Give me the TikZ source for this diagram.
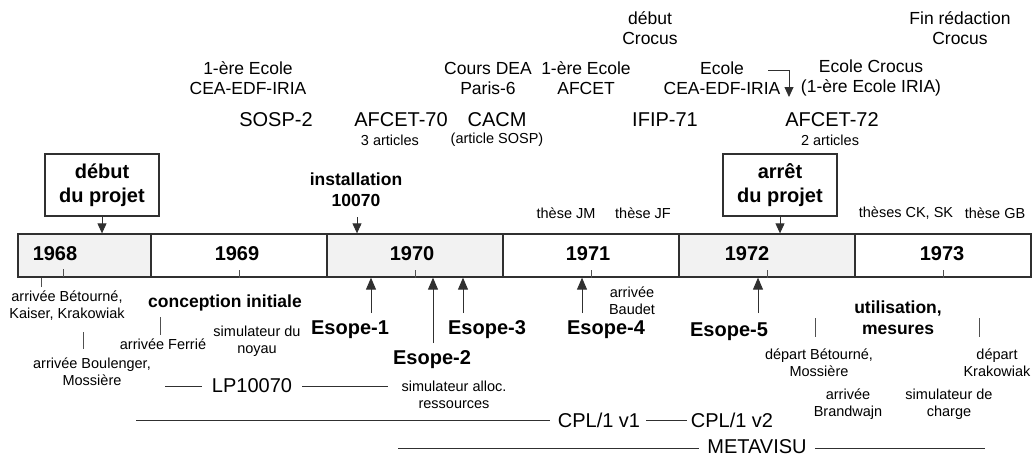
\documentclass[tikz,border=0pt]{standalone}
\usepackage{fontspec}
\setmainfont{Liberation Sans}
\usetikzlibrary{arrows.meta}
\definecolor{bar}{HTML}{303030}
\definecolor{txt}{HTML}{000000}
\definecolor{tk}{HTML}{505050}
\definecolor{shd}{HTML}{F2F2F2}
\begin{document}
\begin{tikzpicture}[x=1pt,y=-1pt,
  every node/.style={inner sep=0pt, align=center, text=txt},
  sm/.style={font=\fontsize{14.5}{17}\selectfont},
  md/.style={font=\fontsize{17.5}{20}\selectfont},
  lg/.style={font=\fontsize{20}{23}\selectfont},
  bmd/.style={font=\bfseries\fontsize{17.5}{21}\selectfont},
  blg/.style={font=\bfseries\fontsize{20}{24}\selectfont},
  seg/.style={draw=bar, line width=1.3pt, minimum height=43pt, inner sep=0pt},
  shade/.style={fill=shd},
  pbox/.style={draw=bar, line width=1.2pt, minimum width=114pt, minimum height=62pt, font=\bfseries\fontsize{20}{24}\selectfont},
  tick/.style={draw=tk, line width=0.8pt},
  arr/.style={-{Triangle[width=9pt,length=10pt]}, line width=0.9pt, draw=bar},
  uparr/.style={-{Triangle[width=10pt,length=12pt]}, line width=0.9pt, draw=bar},
  rule/.style={draw=bar, line width=0.9pt}
]
\useasboundingbox (0,0) rectangle (1032,459);

% timeline bar
\node[seg, shade, minimum width=133pt] (s68) at (84.5,255.5) {};
\node[seg, minimum width=176pt] (s69) at (239,255.5) {};
\node[seg, shade, minimum width=176pt] (s70) at (415,255.5) {};
\node[seg, minimum width=176pt] (s71) at (591,255.5) {};
\node[seg, shade, minimum width=176pt] (s72) at (767,255.5) {};
\node[seg, minimum width=176pt] (s73) at (943,255.5) {};

\node[blg] (t68) at (55,254) {1968};
\node[blg] (t69) at (237,254) {1969};
\node[blg] (t70) at (412,254) {1970};
\node[blg] (t71) at (588,254) {1971};
\node[blg] (t72) at (747,254) {1972};
\node[blg] (t73) at (942,254) {1973};

\draw[tick] (63,269) -- (63,277);
\draw[tick] (s69.south) -- ++(0,-8);
\draw[tick] (s70.south) -- ++(0,-8);
\draw[tick] (s71.south) -- ++(0,-8);
\draw[tick] (s72.south) -- ++(0,-8);
\draw[tick] (s73.south) -- ++(0,-8);

% top texts
\node[md] (debCro) at (650,28) {début\\Crocus};
\node[md] (finCro) at (960,28) {Fin rédaction\\Crocus};
\node[md] (ecole1) at (248,78) {1-ère Ecole\\CEA-EDF-IRIA};
\node[md] (dea) at (488,78) {Cours DEA\\Paris-6};
\node[md] (ecAf) at (586,78) {1-ère Ecole\\AFCET};
\node[md] (ecole2) at (722,78) {Ecole\\CEA-EDF-IRIA};
\node[md] (ecCro) at (871,78) {Ecole Crocus\\(1-ère Ecole IRIA)};
\coordinate (e2a) at (768,70);
\coordinate (e2b) at (789,70);
\coordinate (e2c) at (789,97);
\draw[arr] (e2a) -- (e2b) -- (e2c);

\node[lg] (sosp) at (276,120) {SOSP-2};
\node[lg] (af70) at (401,120) {AFCET-70};
\node[sm] (af70b) at (390,140) {3 articles};
\node[lg] (cacm) at (497,120) {CACM};
\node[sm] (cacmb) at (497,140) {(article SOSP)};
\node[lg] (ifip) at (665,120) {IFIP-71};
\node[lg] (af72) at (832,120) {AFCET-72};
\node[sm] (af72b) at (830,140) {2 articles};

% project boxes
\node[pbox] (debut) at (102,185) {début\\du projet};
\node[pbox] (arret) at (780,185) {arrêt\\du projet};
\draw[arr] (debut.south) -- (debut.south |- s68.north);
\draw[arr] (arret.south) -- (arret.south |- s72.north);

\node[bmd] (inst) at (356,189.5) {installation\\10070};
\coordinate (instA) at (357,217);
\draw[arr] (instA) -- (instA |- s70.north);

\node[sm] (thJM) at (566,213) {thèse JM};
\node[sm] (thJF) at (643,213) {thèse JF};
\node[sm] (thCK) at (906,213) {thèses CK, SK};
\node[sm] (thGB) at (995,213) {thèse GB};

% below the bar
\coordinate (bk1) at (41,287);
\draw[tick] (bk1) -- (bk1 |- s68.south);
\node[sm] (arrBet) at (67,305.5) {arrivée Bétourné,\\Kaiser, Krakowiak};
\coordinate (bk2a) at (83,332);
\coordinate (bk2b) at (83,349);
\draw[tick] (bk2a) -- (bk2b);
\node[sm] (arrBou) at (92,372) {arrivée Boulenger,\\Mossière};
\node[bmd] (concep) at (225,303) {conception initiale};
\coordinate (fea) at (160,317);
\coordinate (feb) at (160,335);
\draw[tick] (fea) -- (feb);
\node[sm] (arrFer) at (163,344) {arrivée Ferrié};
\node[sm] (simNoy) at (257,341) {simulateur du\\noyau};

\node[blg] (es1) at (350,330) {Esope-1};
\node[blg] (es2) at (432,360) {Esope-2};
\node[blg] (es3) at (487,330) {Esope-3};
\node[blg] (es4) at (606,330) {Esope-4};
\node[blg] (es5) at (729,332) {Esope-5};
\coordinate (a1) at (371,313);
\coordinate (a2) at (433,343);
\coordinate (a3) at (463,313);
\coordinate (a4) at (582,313);
\coordinate (a5) at (758,313);
\draw[uparr] (a1) -- (a1 |- s70.south);
\draw[uparr] (a2) -- (a2 |- s70.south);
\draw[uparr] (a3) -- (a3 |- s70.south);
\draw[uparr] (a4) -- (a4 |- s71.south);
\draw[uparr] (a5) -- (a5 |- s72.south);

\node[sm] (arrBau) at (632,301) {arrivée\\Baudet};
\node[sm] (simAll) at (454,394.5) {simulateur alloc.\\ressources};

\coordinate (dba) at (815,318);
\coordinate (dbb) at (815,337);
\draw[tick] (dba) -- (dbb);
\node[sm] (depBet) at (819,363) {départ Bétourné,\\Mossière};
\node[bmd] (util) at (898,317.5) {utilisation,\\mesures};
\coordinate (dka) at (979,318);
\coordinate (dkb) at (979,337);
\draw[tick] (dka) -- (dkb);
\node[sm] (depKra) at (997,363) {départ\\Krakowiak};
\node[sm] (arrBra) at (848,404) {arrivée\\Brandwajn};
\node[sm] (simCh) at (949,404) {simulateur de\\charge};

% software lines
\node[lg] (lp) at (252,386) {LP10070};
\coordinate (lpA) at (165,386);
\coordinate (lpB) at (388,386);
\draw[rule] (lpA) -- ([xshift=-10pt]lp.west);
\draw[rule] ([xshift=10pt]lp.east) -- (lpB);

\node[lg] (cpl1) at (599,420) {CPL/1 v1};
\node[lg] (cpl2) at (732,420) {CPL/1 v2};
\coordinate (cplA) at (136,420);
\draw[rule] (cplA) -- ([xshift=-8pt]cpl1.west);
\draw[rule] ([xshift=6pt]cpl1.east) -- ([xshift=-4pt]cpl2.west);

\node[lg] (meta) at (757,446.5) {METAVISU};
\coordinate (mtA) at (398,448);
\coordinate (mtB) at (985,448);
\draw[rule] (mtA) -- ([xshift=-8pt]meta.west |- mtA);
\draw[rule] ([xshift=8pt]meta.east |- mtB) -- (mtB);
\end{tikzpicture}
\end{document}
